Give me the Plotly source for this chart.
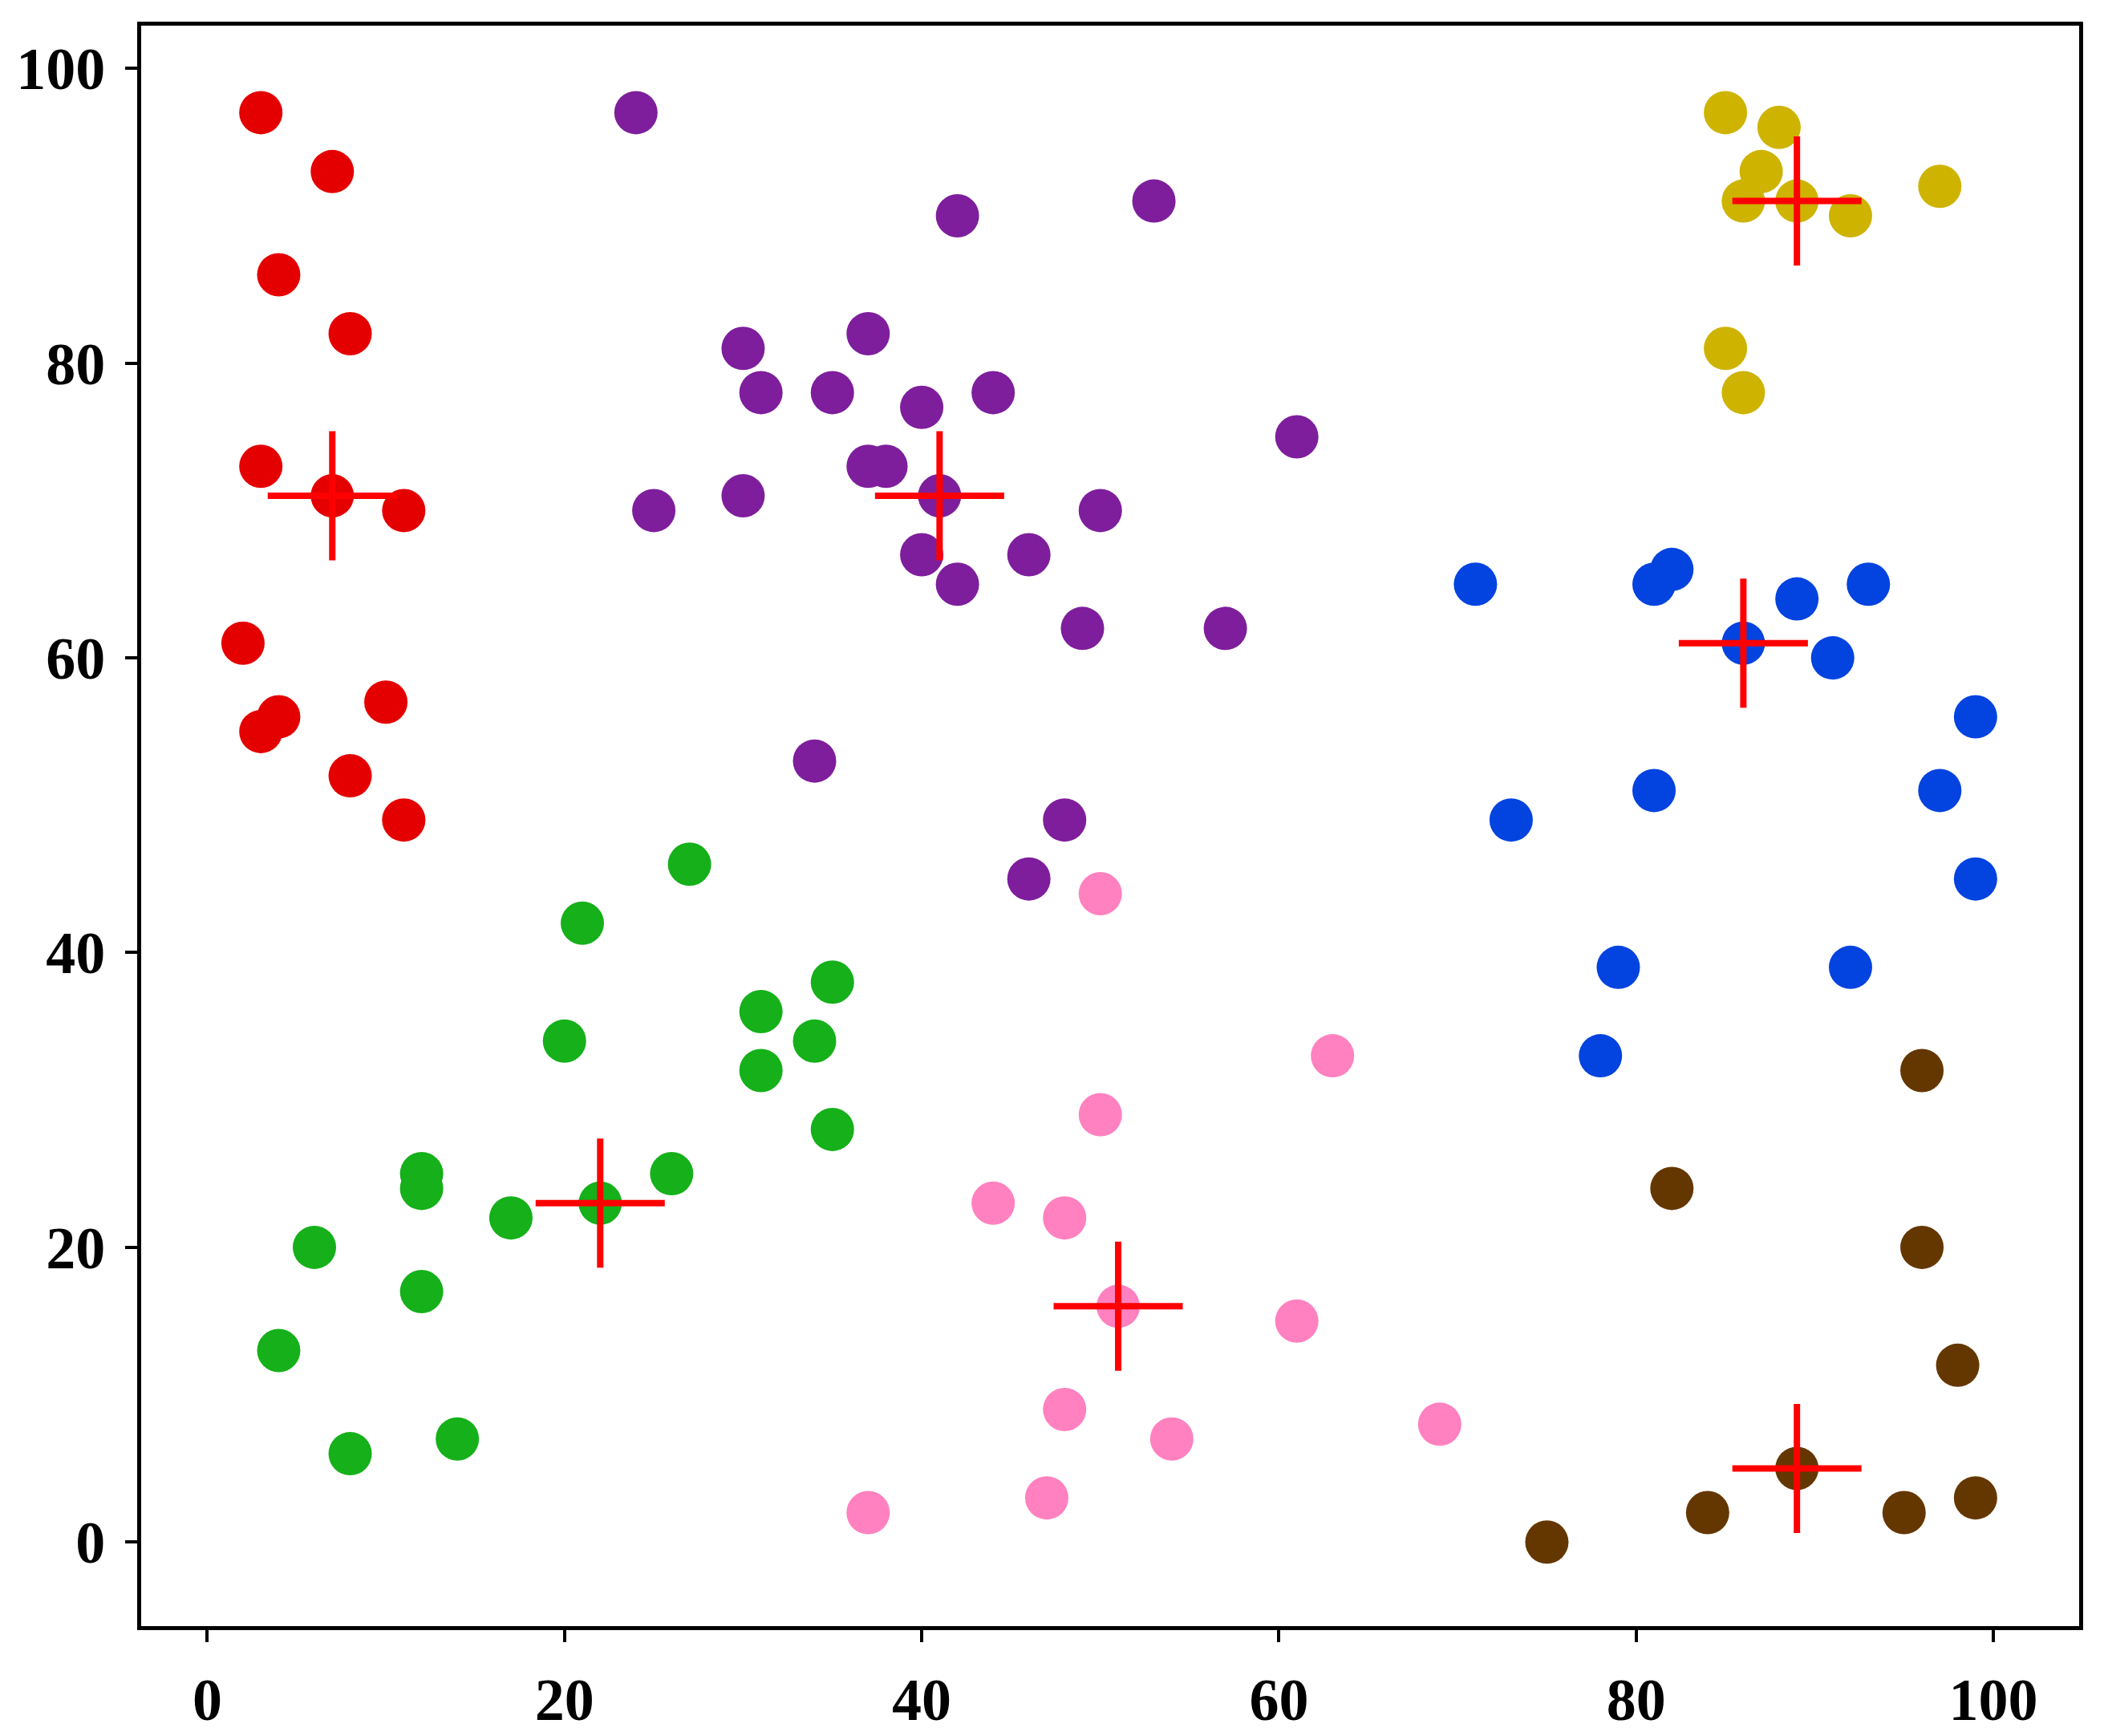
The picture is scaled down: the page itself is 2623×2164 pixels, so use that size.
import plotly.graph_objects as go

# cluster members
red_x = [3, 7, 4, 8, 3, 7, 11, 2, 10, 4, 3, 8, 11]
red_y = [97, 93, 86, 82, 73, 71, 70, 61, 57, 56, 55, 52, 49]

purple_x = [24, 42, 53, 30, 37, 31, 35, 40, 44, 61, 37, 38, 41, 25, 30, 50,
            40, 42, 46, 49, 57, 34, 48, 46]
purple_y = [97, 90, 91, 81, 82, 78, 78, 77, 78, 75, 73, 73, 71, 70, 71, 70,
            67, 65, 67, 62, 62, 53, 49, 45]

mustard_x = [85, 88, 87, 86, 89, 92, 97, 85, 86]
mustard_y = [97, 96, 93, 91, 91, 90, 92, 81, 78]

blue_x = [71, 81, 82, 93, 89, 86, 91, 99, 73, 81, 97, 99, 79, 92, 78]
blue_y = [65, 65, 66, 65, 64, 61, 60, 56, 49, 51, 51, 45, 39, 39, 33]

green_x = [27, 21, 35, 31, 20, 34, 31, 35, 12, 12, 26, 17, 22, 6, 12, 4, 14, 8]
green_y = [46, 42, 38, 36, 34, 34, 32, 28, 25, 24, 25, 22, 23, 20, 17, 13, 7, 6]

pink_x = [50, 63, 50, 44, 48, 51, 61, 69, 48, 54, 47, 37]
pink_y = [44, 33, 29, 23, 22, 16, 15, 8, 9, 7, 3, 2]

brown_x = [96, 82, 96, 98, 89, 99, 84, 95, 75]
brown_y = [32, 24, 20, 12, 5, 3, 2, 2, 0]

# cluster centres
centre_x = [7, 41, 89, 86, 22, 51, 89]
centre_y = [71, 71, 91, 61, 23, 16, 5]

clusters = [
    (red_x, red_y, "#e50000"),
    (purple_x, purple_y, "#7e1e9c"),
    (mustard_x, mustard_y, "#ceb301"),
    (blue_x, blue_y, "#0343df"),
    (green_x, green_y, "#15b01a"),
    (pink_x, pink_y, "#ff81c0"),
    (brown_x, brown_y, "#653700"),
]

fig = go.Figure()
for xs, ys, col in clusters:
    fig.add_trace(go.Scatter(x=xs, y=ys, mode="markers",
                             marker=dict(size=54, color=col, line=dict(width=0)),
                             showlegend=False))

fig.add_trace(go.Scatter(x=centre_x, y=centre_y, mode="markers",
                         marker=dict(symbol="cross-thin", size=115,
                                     line=dict(width=8, color="#ff0000")),
                         showlegend=False))

font = dict(family="Liberation Serif, Times New Roman, serif", size=74,
            color="black", weight="bold")
axis = dict(showgrid=False, zeroline=False, showline=True, linecolor="black",
            linewidth=5, mirror=True, ticks="outside", ticklen=15, tickwidth=4,
            tickcolor="black", tickfont=font)

fig.update_layout(
    width=2623, height=2164,
    margin=dict(l=162, r=39, t=24, b=118),
    paper_bgcolor="white", plot_bgcolor="white",
    font=font,
)
fig.update_xaxes(range=[-3.7, 104.8], tickvals=[0, 20, 40, 60, 80, 100],
                 ticklabelstandoff=8, **axis)
fig.update_yaxes(range=[-5.7, 102.9], tickvals=[0, 20, 40, 60, 80, 100],
                 ticklabelstandoff=10, **axis)

fig.write_html("out.html")
